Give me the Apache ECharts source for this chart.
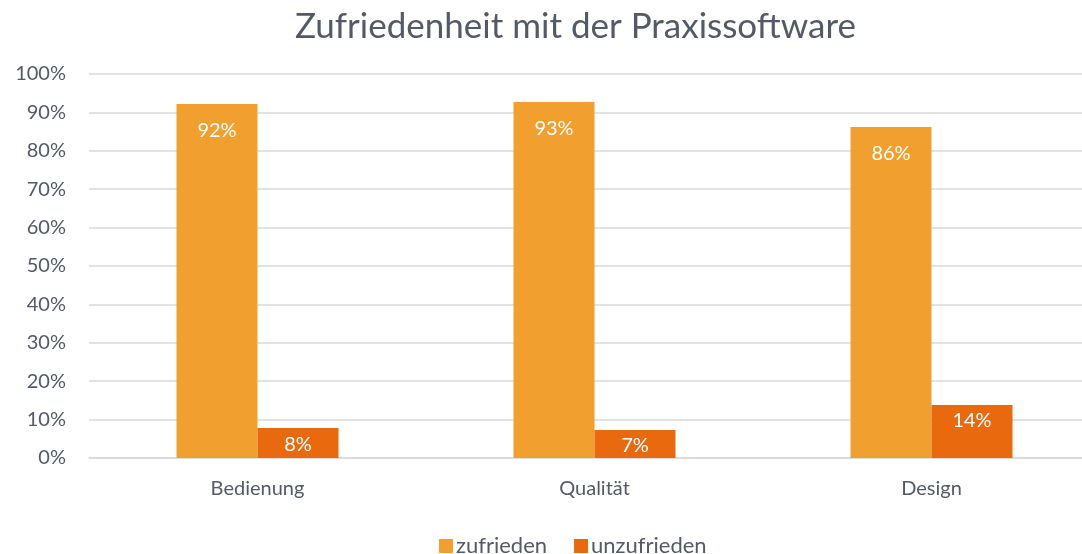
<!DOCTYPE html>
<html>
<head>
<meta charset="utf-8">
<script src="https://cdn.jsdelivr.net/npm/echarts@6/dist/echarts.min.js"></script>
<style>
  html, body { margin: 0; padding: 0; background: #fff; }
  #chart { width: 1082px; height: 554px; }
</style>
</head>
<body>
<div id="chart"></div>
<script>
var categories = ['Bedienung', 'Qualität', 'Design'];
var zufrieden = [92.2, 92.7, 86.2];
var unzufrieden = [7.8, 7.3, 13.8];

var textColor = '#515a66';
var myChart = echarts.init(document.getElementById('chart'));

var option = {
  animation: false,
  textStyle: { fontFamily: 'Lato' },
  title: {
    text: 'Zufriedenheit mit der Praxissoftware',
    left: 290,
    top: 4,
    textStyle: { color: textColor, fontSize: 35, fontWeight: 'normal', fontFamily: 'Lato' }
  },
  legend: {
    top: 530,
    left: 434,
    itemWidth: 14,
    itemHeight: 14,
    itemGap: 27,
    icon: 'rect',
    textStyle: { color: textColor, fontSize: 22, fontFamily: 'Lato', padding: [0, 0, 0, -2] },
    data: ['zufrieden', 'unzufrieden']
  },
  grid: { left: 89, top: 74, width: 1011, height: 384, outerBoundsMode: 'none' },
  xAxis: {
    type: 'category',
    data: categories,
    axisTick: { show: false },
    axisLine: { lineStyle: { color: '#d9d9d9', width: 1.5 } },
    axisLabel: { color: textColor, fontSize: 20, margin: 21, fontFamily: 'Lato' }
  },
  yAxis: {
    type: 'value',
    min: 0,
    max: 100,
    interval: 10,
    axisLabel: { color: textColor, fontSize: 20, margin: 23, formatter: '{value}%', fontFamily: 'Lato' },
    splitLine: { lineStyle: { color: '#d9d9d9', width: 1.5 } },
    axisLine: { show: false },
    axisTick: { show: false }
  },
  series: [
    {
      name: 'zufrieden',
      type: 'bar',
      data: zufrieden,
      barWidth: 81,
      barGap: '0%',
      itemStyle: { color: '#f19f2f' },
      label: {
        show: true,
        position: 'insideTop',
        distance: 17,
        color: '#fff',
        fontSize: 20,
        fontFamily: 'Lato',
        formatter: function (p) { return Math.round(p.value) + '%'; }
      }
    },
    {
      name: 'unzufrieden',
      type: 'bar',
      data: unzufrieden,
      barWidth: 81,
      itemStyle: { color: '#e8690e' },
      label: {
        show: true,
        position: 'insideTop',
        distance: 6,
        color: '#fff',
        fontSize: 20,
        fontFamily: 'Lato',
        formatter: function (p) { return Math.round(p.value) + '%'; }
      }
    }
  ]
};

option && myChart.setOption(option);
</script>
</body>
</html>
